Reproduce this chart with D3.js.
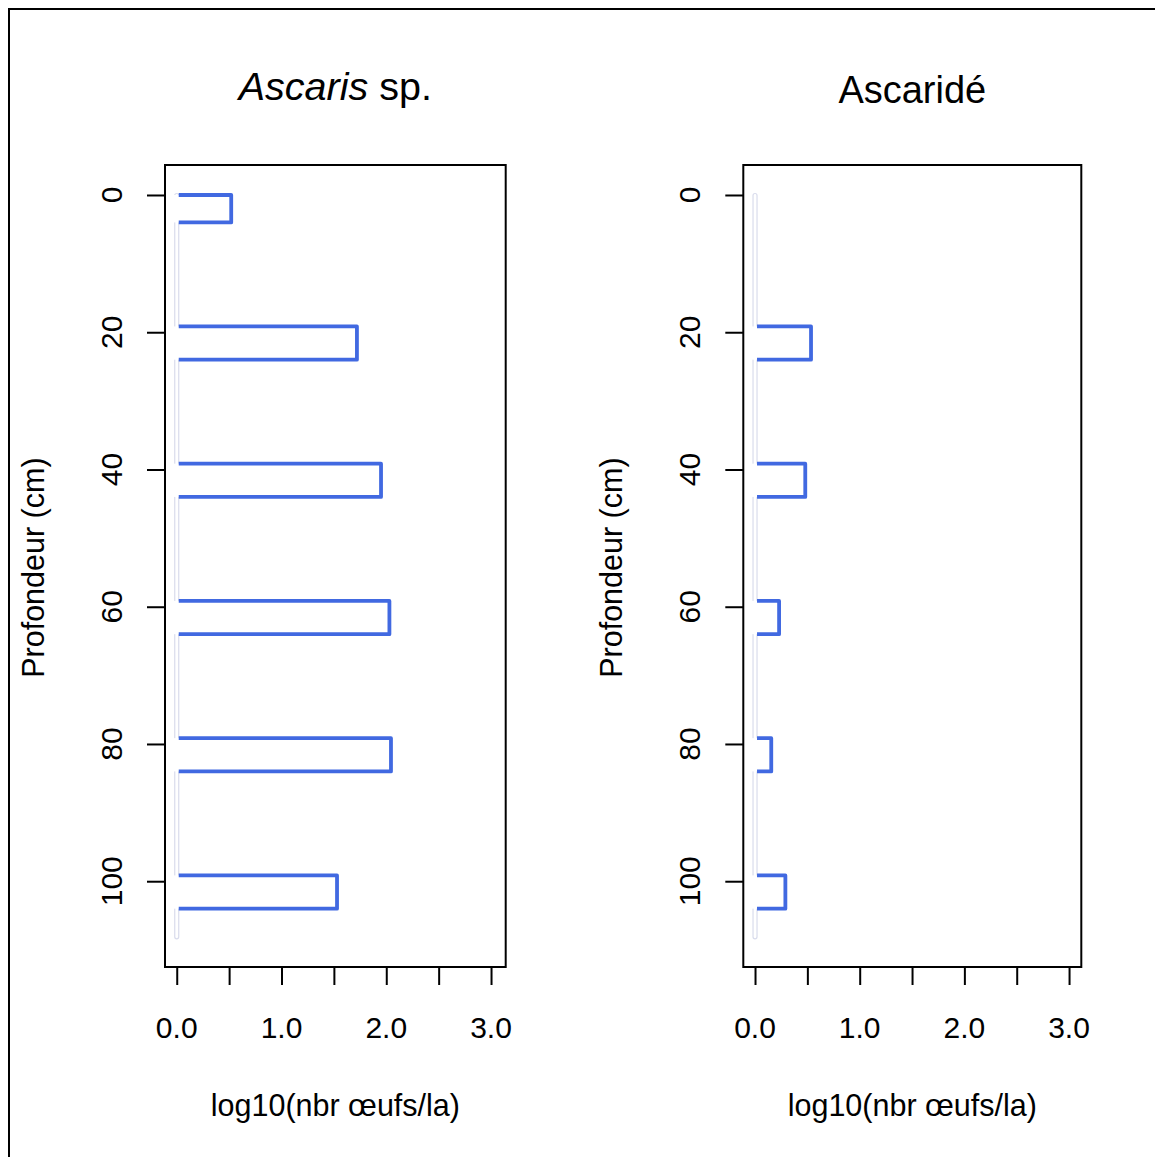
<!DOCTYPE html>
<html>
<head>
<meta charset="utf-8">
<script src="https://cdn.jsdelivr.net/npm/d3@7"></script>
<style>
  html, body { margin: 0; padding: 0; background: #fff; }
  svg { display: block; }
  text { font-family: "Liberation Sans", Arial, Helvetica, sans-serif; fill: #000; }
</style>
</head>
<body>
<svg id="chart" width="1155" height="1157"></svg>
<script>
// ---- data ----
const depthTicks = [0, 20, 40, 60, 80, 100];
const xTicks = [0, 0.5, 1, 1.5, 2, 2.5, 3];
const xTickLabels = ["0.0", "1.0", "2.0", "3.0"];
const xLabelTicks = [0, 1, 2, 3];
const layerTop = [0, 19.15, 39.15, 59.15, 79.15, 99.15];
const layerBottom = [4, 24, 44, 64, 84, 104];
const depthMax = 108.4;
const ascarisValues = [0.52, 1.72, 1.95, 2.03, 2.045, 1.53];
const ascarideValues = [0, 0.535, 0.48, 0.23, 0.155, 0.29];
const panelTitles = ["Ascaris", "Ascaridé"];
const yTitle = "Profondeur (cm)";
const xTitle = "log10(nbr œufs/la)";

(function () {
const svg = d3.select("#chart");
const W = 1155, H = 1157;
svg.append("rect").attr("width", W).attr("height", H).attr("fill", "#fff");
// outer frame (right/bottom fall outside view)
svg.append("rect").attr("x", 9).attr("y", 9).attr("width", 1170).attr("height", 1170)
  .attr("fill", "none").attr("stroke", "#000").attr("stroke-width", 2);

const blue = "#4169E1";
const panels = [
  { left: 165, right: 505.7, xmax: 3.14, values: ascarisValues },
  { left: 743.3, right: 1081.3, xmax: 3.117, values: ascarideValues }
];
const plotTop = 165, plotBottom = 967;

panels.forEach((p, pi) => {
  const g = svg.append("g");
  const x = d3.scaleLinear().domain([-0.112, p.xmax]).range([p.left, p.right]);
  const y = d3.scaleLinear().domain([-4.37, 112.5]).range([plotTop, plotBottom]);
  const x0 = x(0);

  // faint baseline strip
  g.append("rect")
    .attr("x", x0 - 2).attr("y", y(0) - 1.5)
    .attr("width", 4).attr("height", y(depthMax) - y(0) + 1.5)
    .attr("rx", 2)
    .attr("fill", "#fff").attr("stroke", "#d9dcec").attr("stroke-width", 1.2);

  // bars
  p.values.forEach((v, i) => {
    if (v <= 0) return;
    const yt = y(layerTop[i]), yb = y(layerBottom[i]), xr = x(v);
    g.append("rect").attr("x", x0 - 3).attr("y", yt).attr("width", xr - x0 + 3)
      .attr("height", yb - yt).attr("fill", "#fff");
    g.append("path")
      .attr("d", `M${x0 + 2},${yt}H${xr}V${yb}H${x0 + 2}`)
      .attr("fill", "none").attr("stroke", blue).attr("stroke-width", 3.8)
      .attr("stroke-linejoin", "round");
  });

  // box
  g.append("rect").attr("x", p.left).attr("y", plotTop)
    .attr("width", p.right - p.left).attr("height", plotBottom - plotTop)
    .attr("fill", "none").attr("stroke", "#000").attr("stroke-width", 2);

  // y axis
  const yAxis = g.append("g").attr("transform", `translate(${p.left},0)`)
    .call(d3.axisLeft(y).tickValues(depthTicks).tickSize(18).tickFormat(""));
  yAxis.select(".domain").remove();
  yAxis.selectAll(".tick line").attr("stroke", "#000").attr("stroke-width", 2);
  depthTicks.forEach(d => {
    g.append("text")
      .attr("transform", `translate(${p.left - 43},${y(d)}) rotate(-90)`)
      .attr("text-anchor", "middle").attr("font-size", 30)
      .text(d);
  });

  // x axis
  const xAxis = g.append("g").attr("transform", `translate(0,${plotBottom})`)
    .call(d3.axisBottom(x).tickValues(xTicks).tickSize(18).tickFormat(""));
  xAxis.select(".domain").remove();
  xAxis.selectAll(".tick line").attr("stroke", "#000").attr("stroke-width", 2);
  xLabelTicks.forEach((t, i) => {
    g.append("text").attr("x", x(t)).attr("y", 1038)
      .attr("text-anchor", "middle").attr("font-size", 30).text(xTickLabels[i]);
  });

  // axis titles
  const cx = (p.left + p.right) / 2;
  g.append("text").attr("x", cx).attr("y", 1116)
    .attr("text-anchor", "middle").attr("font-size", 30.5).text(xTitle);
  g.append("text")
    .attr("transform", `translate(${p.left - 121},${y(54.3)}) rotate(-90)`)
    .attr("text-anchor", "middle").attr("font-size", 30.5).text(yTitle);

  // panel title
  if (pi === 0) {
    const t = g.append("text").attr("x", cx).attr("y", 99.5)
      .attr("text-anchor", "middle").attr("font-size", 39.5);
    t.append("tspan").attr("font-style", "italic").text(panelTitles[0]);
    t.append("tspan").text(" sp.");
  } else {
    g.append("text").attr("x", cx).attr("y", 103.3)
      .attr("text-anchor", "middle").attr("font-size", 38).text(panelTitles[1]);
  }
});
})();
</script>
</body>
</html>
